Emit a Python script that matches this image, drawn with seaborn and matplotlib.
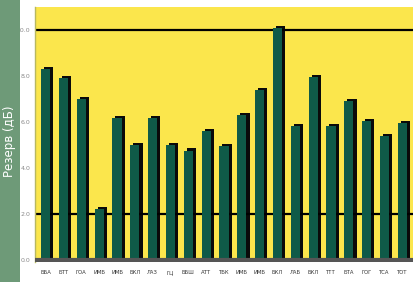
import matplotlib
matplotlib.use("Agg")
import matplotlib.pyplot as plt
import matplotlib.transforms as mtransforms
from matplotlib.patches import Rectangle
import seaborn as sns
import pandas as pd

categories = ["ББА", "БТТ", "ГОА", "ИМБ", "ИМБ", "БКЛ", "ЛАЗ", "ГЦ", "ББШ", "АТТ", "ТБК",
              "ИМБ", "ИМБ", "БКЛ", "ЛАБ", "БКЛ", "ТТТ", "БТА", "ГОГ", "ТСА", "ТОТ"]
values = [8.3, 7.9, 7.0, 2.2, 6.15, 5.0, 6.15, 5.0, 4.75, 5.6, 4.95,
          6.3, 7.4, 10.1, 5.8, 7.95, 5.8, 6.9, 6.05, 5.4, 5.95]
ref_lines = [2.0, 10.0]
yticks = [0, 2, 4, 6, 8, 10]
ytick_labels = ["0.0", "2.0", "4.0", "6.0", "8.0", "10.0"]

df = pd.DataFrame({"cat": range(len(categories)), "val": values})

sns.set_theme(style="white")
plt.rcParams["font.family"] = ["DejaVu Sans"]

W, H = 418, 282
fig = plt.figure(figsize=(W / 100, H / 100), dpi=100)
fig.patch.set_facecolor("white")
fig.patches.append(Rectangle((0, 0), 20 / W, 1, transform=fig.transFigure,
                             facecolor="#6e9a78", edgecolor="none", zorder=0))
fig.text(10 / W, 0.5, "Резерв (дБ)", rotation=90, color="white", fontsize=8.5,
         ha="center", va="center")

ax = fig.add_axes([35 / W, (H - 262) / H, 378 / W, 255 / H])
ax.set_facecolor("#fbe64c")

sns.barplot(data=df, x="cat", y="val", color="#0f5a48", saturation=1,
            width=0.52, ax=ax, zorder=3, edgecolor="none")

offset = mtransforms.offset_copy(ax.transData, fig=fig, x=2.2, y=1.5, units="points")
for p in list(ax.patches):
    shadow = Rectangle((p.get_x(), p.get_y()), p.get_width(), p.get_height(),
                       transform=offset, facecolor="#0a0a0a", edgecolor="none", zorder=2)
    ax.add_patch(shadow)

for y in ref_lines:
    ax.axhline(y, color="black", lw=1.6, zorder=2.5)

ax.set_xlim(-0.6, len(categories) - 0.4)
ax.set_ylim(-0.1, 11.0)
ax.set_yticks(yticks)
ax.set_yticklabels(ytick_labels, fontsize=4.5)
ax.set_xticks(range(len(categories)))
ax.set_xticklabels(categories, fontsize=3.8)
ax.tick_params(axis="both", length=2, width=0.5, colors="#666666", pad=1.5)
ax.tick_params(axis="x", pad=4)
for t in ax.get_xticklabels():
    t.set_color("#333333")
for t in ax.get_yticklabels():
    t.set_color("#8a8a8a")
ax.set_xlabel("")
ax.set_ylabel("")
ax.axhline(0, color="#555555", lw=3, zorder=4)
for s in ["top", "right", "bottom"]:
    ax.spines[s].set_visible(False)
ax.spines["left"].set_color("#b8b860")
ax.spines["left"].set_linewidth(1)

fig.savefig("out.png", dpi=100)
